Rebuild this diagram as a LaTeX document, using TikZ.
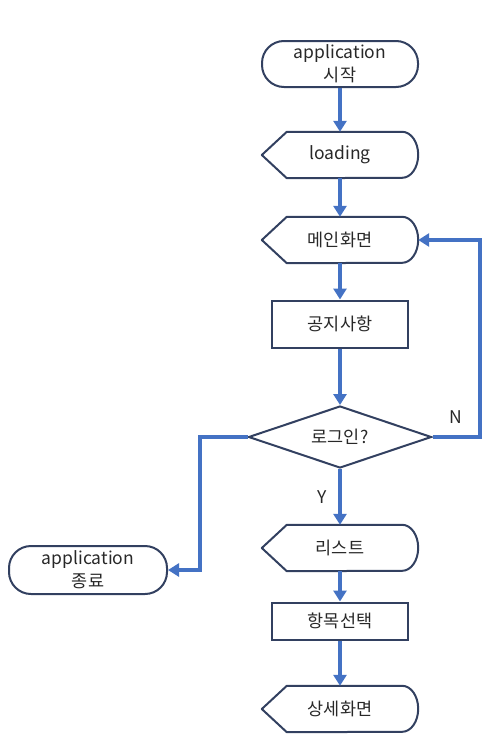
\documentclass[tikz,border=0pt]{standalone}
\usepackage{fontspec}
\setmainfont{Noto Sans CJK KR}
\usetikzlibrary{arrows.meta,shapes.geometric}
\definecolor{flowblue}{RGB}{68,114,196}
\definecolor{edgeblue}{RGB}{50,64,96}
\definecolor{textgray}{RGB}{40,40,40}

\begin{document}
\begin{tikzpicture}[x=1pt,y=-1pt,font=\fontsize{17.5}{23}\selectfont,text=textgray,
  term/.style={draw=edgeblue,line width=2pt,rounded corners=22pt,minimum width=156pt,minimum height=46pt,align=center,inner sep=0pt},
  disp/.style={minimum width=156pt,minimum height=46pt,inner sep=0pt},
  proc/.style={draw=edgeblue,line width=2pt,minimum width=136pt,minimum height=47pt,inner sep=0pt},
  decide/.style={draw=edgeblue,line width=2pt,diamond,aspect=3,minimum width=183pt,minimum height=62pt,inner sep=0pt},
  flow/.style={draw=flowblue,line width=4pt,-{Triangle[length=11pt,width=13pt]}}]
       \useasboundingbox (0,0) rectangle (482,736);
       \node[term] (start) at (340, 64) {application\\시작};
       \node[disp] (load) at (340, 155) {loading};
       \node[disp] (main) at (340, 240) {메인화면};
       \node[proc] (notice) at (340, 324) {공지사항};
       \node[decide] (login) at (340, 437) {로그인?};
       \node[disp] (list) at (340, 548) {리스트};
       \node[proc,minimum height=37pt] (pick) at (340, 621) {항목선택};
       \node[disp] (detail) at (340, 709) {상세화면};
       \node[term,minimum width=158pt,minimum height=48pt] (finish) at (88, 570) {application\\종료};
       \coordinate (loopR) at (480, 437);
       \coordinate (loopL) at (200, 437);

       % display outlines: pointed left side, rounded right side
       \foreach \n in {load,main,list,detail}{
         \draw[edgeblue,line width=2pt,line join=round] (\n.west) -- ([xshift=25pt]\n.north west) -- ([xshift=-16pt]\n.north east)
           arc[start angle=90,end angle=-90,x radius=16pt,y radius=23pt] -- ([xshift=25pt]\n.south west) -- cycle; }

       \foreach \a/\b in {start/load,load/main,main/notice,notice/login,list/pick,pick/detail}{\draw[flow] (\a) -- (\b); }
       \draw[flow] (login) -- node[left=8pt]{Y} (list);
       \draw[flow] (login.east) -- node[above=8pt]{N} (loopR) |- (main.east);
       \draw[flow] (login.west) -- (loopL) |- (finish.east);
     \end{tikzpicture}
\end{document}
